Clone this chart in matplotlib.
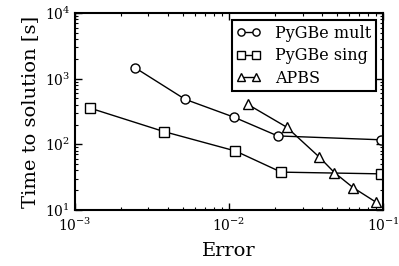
import matplotlib
matplotlib.use('Agg')
import matplotlib.pyplot as plt

plt.rcParams['font.family'] = 'DejaVu Serif'
plt.rcParams['mathtext.fontset'] = 'dejavuserif'

# PyGBe mult
err_mult = [0.00245, 0.00518, 0.0108, 0.0207, 0.0966]
time_mult = [1470, 485, 258, 134, 117]

# PyGBe sing
err_sing = [0.00126, 0.00378, 0.0110, 0.0218, 0.0966]
time_sing = [354, 156, 79, 37.6, 35.4]

# APBS
err_apbs = [0.0132, 0.0237, 0.0386, 0.0483, 0.0638, 0.090]
time_apbs = [407, 182, 63.6, 37.1, 21.9, 13.1]

fig = plt.figure(figsize=(3.99, 2.66), dpi=100)
ax = fig.add_axes([0.188, 0.211, 0.772, 0.74])

style = dict(color='k', lw=1, mfc='w', mec='k', ms=6.5, mew=1)
ax.loglog(err_mult, time_mult, marker='o', label='PyGBe mult', **style)
ax.loglog(err_sing, time_sing, marker='s', label='PyGBe sing', **style)
ax.loglog(err_apbs, time_apbs, marker='^', label='APBS', **style)

ax.set_xlim(1e-3, 1e-1)
ax.set_ylim(1e1, 1e4)
ax.set_xlabel('Error', fontsize=14, labelpad=6)
ax.set_ylabel('Time to solution [s]', fontsize=14, labelpad=4)

ax.tick_params(which='both', direction='in', top=True, right=True, labelsize=10)
ax.tick_params(which='major', length=5, width=1)
ax.tick_params(which='minor', length=2.5, width=0.8)
ax.tick_params(axis='x', pad=5)
for s in ax.spines.values():
    s.set_linewidth(1.5)

leg = ax.legend(loc='upper right', fontsize=11.5, numpoints=2, handlelength=1.55,
                markerscale=0.8, fancybox=False, framealpha=1, edgecolor='k',
                borderpad=0.3, labelspacing=0.33, handletextpad=0.85,
                borderaxespad=0.45)
leg.get_frame().set_linewidth(1.5)

fig.savefig('out.png', dpi=100)
